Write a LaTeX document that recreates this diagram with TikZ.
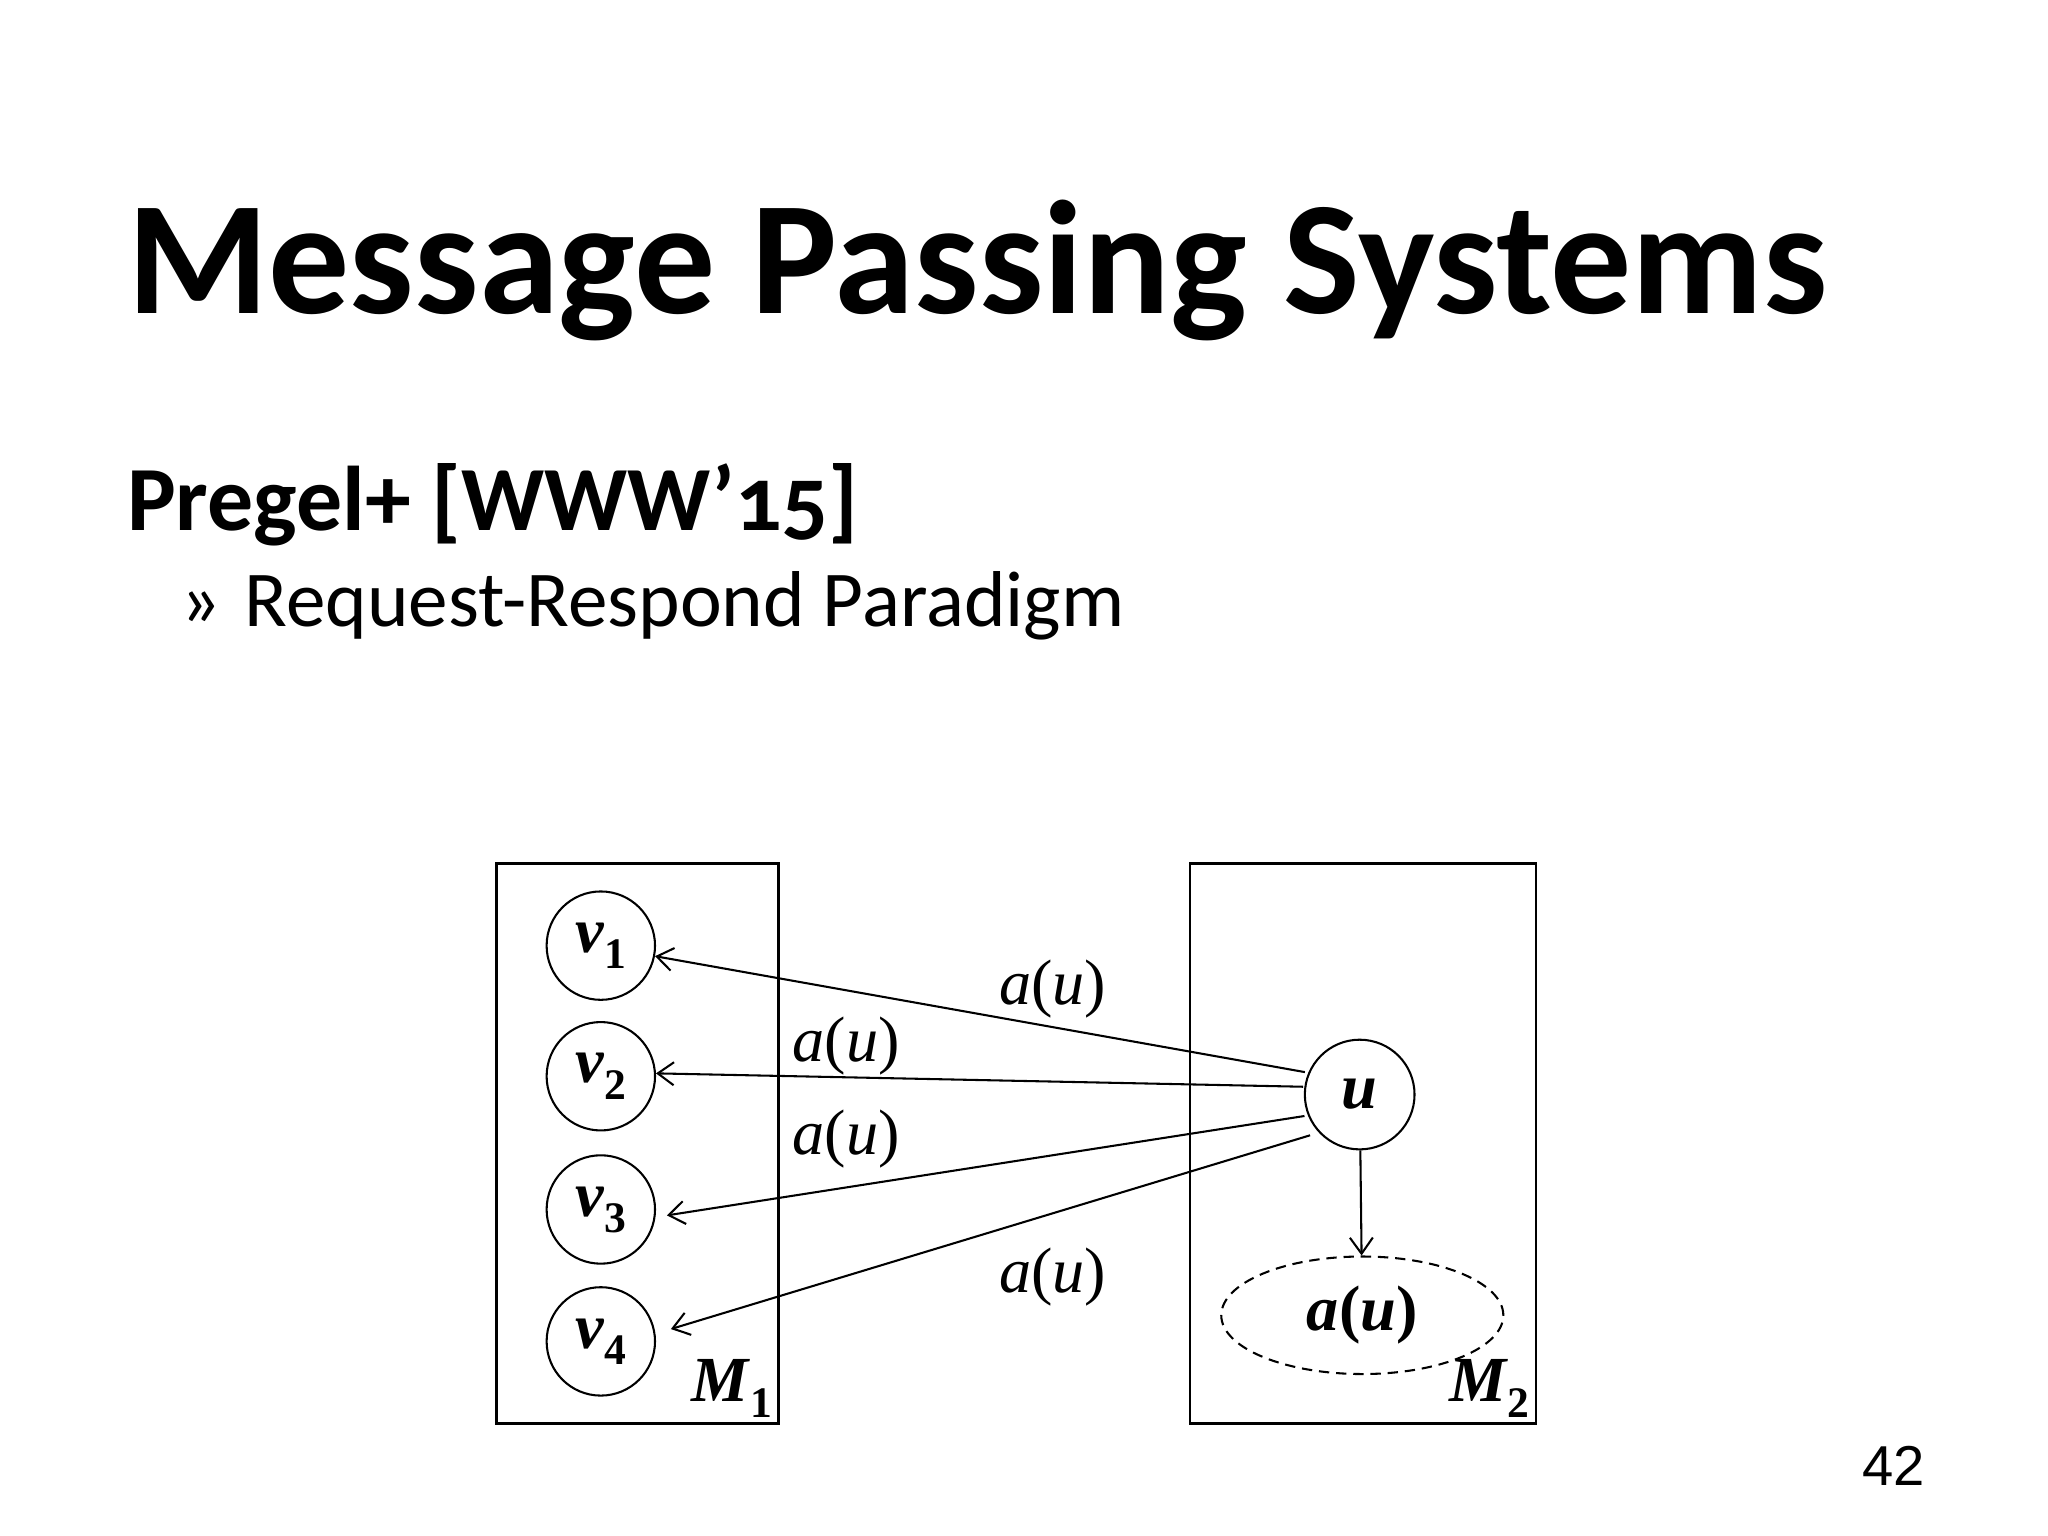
\documentclass[tikz,border=0pt]{standalone}
\usepackage{fontspec}
\setmainfont{Liberation Serif}
\newfontfamily\slidefont[Numbers=OldStyle]{Carlito}
\newfontfamily\pagefont{Liberation Sans}
\usepackage{graphicx}
\usepackage{tikz}
\usetikzlibrary{positioning}
\usetikzlibrary{arrows.meta}
\usetikzlibrary{shapes.geometric}
\newcommand{\bsub}[2]{\textbf{\textit{#1}}\raisebox{-7pt}{\fontsize{19pt}{19pt}\selectfont\textbf{#2}}}
\newcommand{\msgau}{\textit{a}(\textit{u})}

\begin{document}
\begin{tikzpicture}[x=0.02cm, y=-0.02cm, >={Straight Barb[length=7pt, width=10pt]},
    vtx/.style={circle, draw, line width=0.9pt, minimum size=1.66cm, inner sep=0pt, font=\fontsize{28}{28}\selectfont},
    machine/.style={rectangle, draw, line width=1pt, inner sep=0pt, minimum height=8.58cm},
    msg/.style={->, line width=0.9pt},
    lbl/.style={inner sep=0pt, font=\fontsize{28}{28}\selectfont}]

    % Page
    \fill[white] (0,0) rectangle (1568,1176);
    \useasboundingbox (0,0) rectangle (1568,1176);

    % Slide text
    \node[anchor=base west, inner sep=0pt, font=\slidefont\bfseries\fontsize{70.5}{70.5}\selectfont] (title) at (97,240) {Message Passing Systems};
    \node[anchor=base west, inner sep=0pt, font=\slidefont\bfseries\fontsize{40}{40}\selectfont] (sub) at (97,406) {Pregel+ [WWW’15]};
    \node[anchor=base west, inner sep=0pt, font=\slidefont\fontsize{34.5}{34.5}\selectfont] (bullet) at (138,480) {»};
    \node[anchor=base west, inner sep=0pt, font=\slidefont\fontsize{34.5}{34.5}\selectfont] (item) at (187,480) {Request-Respond Paradigm};
    \node[anchor=base east, inner sep=0pt, font=\pagefont\fontsize{24.5}{24.5}\selectfont] (page) at (1474,1137) {42};

    % Machines
    \node[machine, minimum width=4.32cm] (m1) at (488,875.5) {};
    \node[machine, minimum width=5.3cm] (m2) at (1043.5,875.5) {};
    \node[lbl, anchor=south east, inner sep=3pt] (m1lbl) at (m1.south east) {\bsub{M}{1}};
    \node[lbl, anchor=south east, inner sep=3pt] (m2lbl) at (m2.south east) {\bsub{M}{2}};

    % Requesting vertices on M1
    \node[vtx] (v1) at (460,724) {\bsub{v}{1}};
    \node[vtx] (v2) at (460,824) {\bsub{v}{2}};
    \node[vtx] (v3) at (460,926) {\bsub{v}{3}};
    \node[vtx] (v4) at (460,1027) {\bsub{v}{4}};

    % Responding vertex on M2
    \node[vtx, minimum size=1.68cm] (u) at (1041,838) {\textbf{\textit{u}}};
    \node[ellipse, draw, dashed, line width=0.9pt, dash pattern=on 4.5pt off 3pt, minimum width=4.32cm, minimum height=1.8cm, font=\fontsize{28}{28}\selectfont] (au) at (1043,1007) {\textbf{\textit{a}(\textit{u})}};
    \draw[msg] (u) -- (au);

    % Responses
    \draw[msg, shorten <=1.5pt] (u.157) -- (v1.-11);
    \draw[msg, shorten <=0.5pt] (u.172) -- (v2.3);
    \draw[msg, shorten <=1.5pt, shorten >=5pt] (u.202) -- (v3.-8);
    \draw[msg, shorten <=4pt, shorten >=7pt] (u.223) -- (v4.8);
    \node[lbl] (lab1) at (806,757) {\msgau};
    \node[lbl] (lab2) at (648,801) {\msgau};
    \node[lbl] (lab3) at (648,872) {\msgau};
    \node[lbl] (lab4) at (806,978) {\msgau};
\end{tikzpicture}
\end{document}
